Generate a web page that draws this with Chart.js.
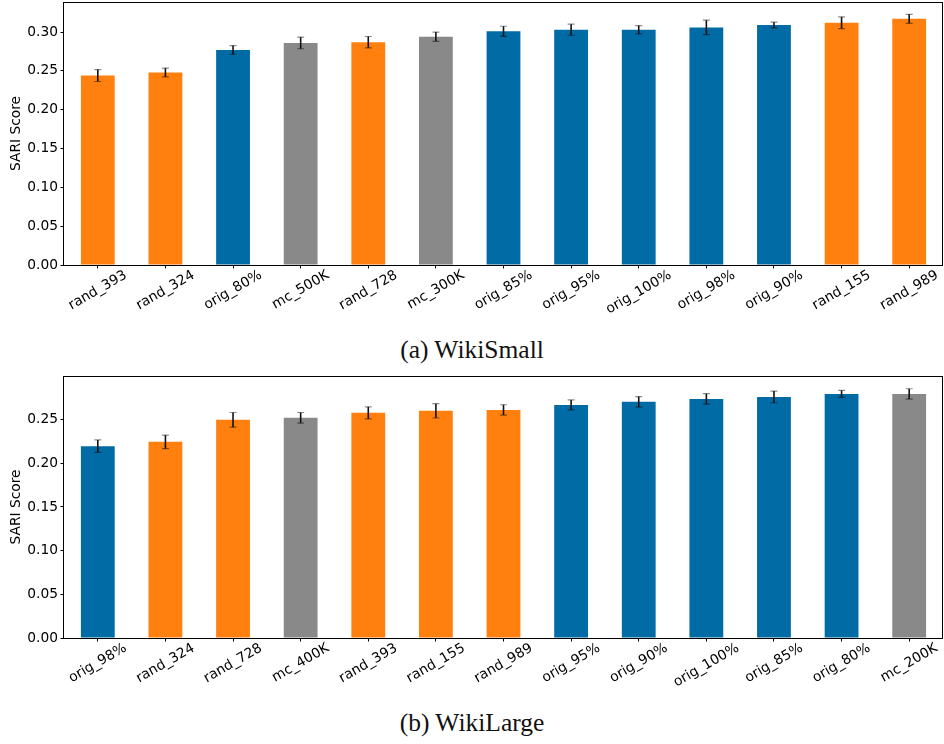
<!DOCTYPE html>
<html>
<head>
<meta charset="utf-8">
<script src="https://cdn.jsdelivr.net/npm/chart.js@4.4.0/dist/chart.umd.min.js"></script>
<style>
  body { margin: 0; background: #fff; width: 944px; height: 744px; overflow: hidden; position: relative; }
  canvas { position: absolute; left: 0; }
  #chartTop { top: 0; }
  #chartBottom { top: 373px; }
  .caption { position: absolute; left: 0; width: 944px; text-align: center; font-family: "Liberation Serif", serif; font-size: 25.5px; color: #111; }
</style>
</head>
<body>
<canvas id="chartTop" width="944" height="330"></canvas>
<div class="caption" style="top:335px">(a) WikiSmall</div>
<canvas id="chartBottom" width="944" height="330"></canvas>
<div class="caption" style="top:708px">(b) WikiLarge</div>

<script>
// WikiSmall
const topLabels = ['rand_393', 'rand_324', 'orig_80%', 'mc_500K', 'rand_728', 'mc_300K', 'orig_85%', 'orig_95%', 'orig_100%', 'orig_98%', 'orig_90%', 'rand_155', 'rand_989'];
const topScores = [0.244, 0.248, 0.277, 0.286, 0.287, 0.294, 0.301, 0.303, 0.303, 0.306, 0.309, 0.312, 0.317];
const topErrors = [0.0077, 0.0056, 0.0056, 0.0075, 0.0073, 0.006, 0.0065, 0.0071, 0.0054, 0.0093, 0.0037, 0.0075, 0.0058];
const topTicks = [0, 0.05, 0.10, 0.15, 0.20, 0.25, 0.30];

// WikiLarge
const bottomLabels = ['orig_98%', 'rand_324', 'rand_728', 'mc_400K', 'rand_393', 'rand_155', 'rand_989', 'orig_95%', 'orig_90%', 'orig_100%', 'orig_85%', 'orig_80%', 'mc_200K'];
const bottomScores = [0.2196, 0.2245, 0.2497, 0.252, 0.2577, 0.26, 0.2611, 0.2668, 0.2703, 0.2737, 0.276, 0.2794, 0.2794];
const bottomErrors = [0.0071, 0.0078, 0.0084, 0.0061, 0.0069, 0.0082, 0.0059, 0.0057, 0.0061, 0.0061, 0.0067, 0.004, 0.0059];
const bottomTicks = [0, 0.05, 0.10, 0.15, 0.20, 0.25];

const colorOf = (label) => {
  if (label.startsWith('orig')) return '#006ba4';
  if (label.startsWith('rand')) return '#ff800e';
  return '#898989';
};

const tickFont = { family: 'DejaVu Sans', size: 13.8 };

// error bars on top of each bar
const errorBars = {
  id: 'errorBars',
  afterDatasetsDraw(chart, args, opts) {
    const ctx = chart.ctx;
    const y = chart.scales.y;
    const meta = chart.getDatasetMeta(0);
    ctx.save();
    meta.data.forEach((bar, i) => {
      const v = opts.values[i], e = opts.errors[i];
      const yTop = y.getPixelForValue(v + e);
      const yBot = y.getPixelForValue(v - e);
      ctx.strokeStyle = 'rgba(0,0,0,0.45)';
      ctx.lineWidth = 1.2;
      ctx.beginPath();
      ctx.moveTo(bar.x - 3.5, yTop); ctx.lineTo(bar.x + 3.5, yTop);
      ctx.moveTo(bar.x - 3.5, yBot); ctx.lineTo(bar.x + 3.5, yBot);
      ctx.stroke();
      ctx.strokeStyle = '#111';
      ctx.lineWidth = 1.6;
      ctx.beginPath();
      ctx.moveTo(bar.x, yTop); ctx.lineTo(bar.x, yBot);
      ctx.stroke();
    });
    ctx.restore();
  }
};

// frame + rotated, centred x labels
const frameAndLabels = {
  id: 'frameAndLabels',
  afterDraw(chart) {
    const ctx = chart.ctx;
    const a = chart.chartArea;
    const x = chart.scales.x;
    ctx.save();
    ctx.strokeStyle = '#000';
    ctx.lineWidth = 1;
    ctx.strokeRect(Math.round(a.left) - 0.5, Math.round(a.top) + 0.5, Math.round(a.right - a.left), Math.round(a.bottom - a.top));

    ctx.font = tickFont.size + 'px "DejaVu Sans"';
    ctx.fillStyle = '#000';
    ctx.textAlign = 'center';
    ctx.textBaseline = 'middle';
    const ang = Math.PI / 6;
    chart.data.labels.forEach((lab, i) => {
      const px = x.getPixelForTick(i);
      const L = ctx.measureText(lab).width;
      const ext = L * Math.sin(ang) + tickFont.size * 0.6;
      ctx.save();
      ctx.translate(px, a.bottom + 5 + ext / 2);
      ctx.rotate(-ang);
      ctx.fillText(lab, 0, 0);
      ctx.restore();
    });
    ctx.restore();
  }
};

function makeChart(id, labels, scores, errors, ticks, yMax) {
  return new Chart(document.getElementById(id), {
    type: 'bar',
    data: {
      labels: labels,
      datasets: [{
        data: scores,
        backgroundColor: labels.map(colorOf),
        borderWidth: 0,
        categoryPercentage: 1,
        barPercentage: 0.5
      }]
    },
    options: {
      responsive: false,
      animation: false,
      layout: { padding: { top: id === 'chartTop' ? 2 : 3, right: 1, left: 0, bottom: 0 } },
      plugins: {
        legend: { display: false },
        tooltip: { enabled: false },
        errorBars: { values: scores, errors: errors }
      },
      scales: {
        x: {
          grid: { display: true, drawOnChartArea: false, drawTicks: true, tickLength: 3.5, color: '#000', offset: false },
          border: { display: false },
          ticks: { display: false },
          afterFit: (s) => { s.height = 65; s.paddingLeft = 0; s.paddingRight = 0; }
        },
        y: {
          min: 0,
          max: yMax,
          afterBuildTicks: (s) => { s.ticks = ticks.map(v => ({ value: v })); },
          grid: { display: true, drawOnChartArea: false, drawTicks: true, tickLength: 3.5, color: '#000' },
          border: { display: false },
          ticks: {
            font: tickFont,
            color: '#000',
            padding: 2.5,
            callback: (v) => Number(v).toFixed(2)
          },
          title: {
            display: true,
            text: 'SARI Score',
            font: tickFont,
            color: '#000',
            padding: { top: 8, bottom: 0 }
          },
          afterFit: (s) => { s.width = 64; s.paddingTop = 0; s.paddingBottom = 0; }
        }
      }
    },
    plugins: [errorBars, frameAndLabels]
  });
}

makeChart('chartTop', topLabels, topScores, topErrors, topTicks, 0.3387);
makeChart('chartBottom', bottomLabels, bottomScores, bottomErrors, bottomTicks, 0.2999);
</script>
</body>
</html>
